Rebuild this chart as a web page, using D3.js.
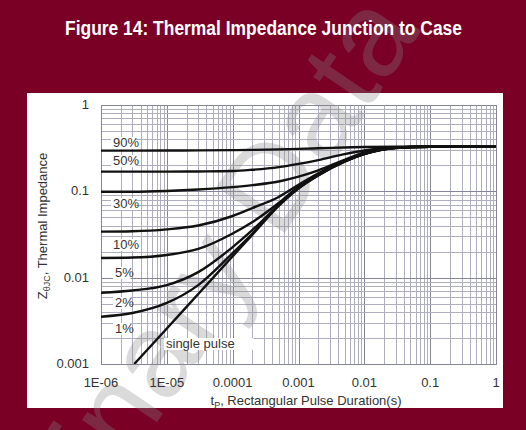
<!DOCTYPE html>
<html>
<head>
<meta charset="utf-8">
<script src="https://cdn.jsdelivr.net/npm/d3@7"></script>
<style>
  body { margin: 0; background: #7a0026; }
  svg { display: block; }
</style>
</head>
<body>
<svg width="526" height="430"></svg>
<script>
// pulse durations (s) used for the duty-cycle curves
var pulseT = [1e-6, 3e-6, 1e-5, 3e-5, 1e-4, 2e-4, 5e-4, 1e-3, 2e-3, 5e-3, 1e-2, 3e-2, 1e-1, 1];
var duty90 = [0.296, 0.296, 0.297, 0.298, 0.300, 0.302, 0.306, 0.310, 0.315, 0.322, 0.326, 0.329, 0.33, 0.33];
var duty50 = [0.169, 0.169, 0.169, 0.170, 0.172, 0.178, 0.191, 0.208, 0.230, 0.270, 0.297, 0.324, 0.329, 0.33];
var duty30 = [0.099, 0.099, 0.101, 0.105, 0.112, 0.118, 0.130, 0.148, 0.175, 0.232, 0.283, 0.322, 0.329, 0.33];
var duty10 = [0.0341, 0.0345, 0.0363, 0.0402, 0.0518, 0.0641, 0.086, 0.119, 0.162, 0.226, 0.274, 0.320, 0.328, 0.33];
var duty5 = [0.0169, 0.0171, 0.0183, 0.0215, 0.0325, 0.0441, 0.0733, 0.113, 0.158, 0.223, 0.272, 0.319, 0.328, 0.33];
var duty2 = [0.0067, 0.0071, 0.0082, 0.0116, 0.0226, 0.0357, 0.0693, 0.110, 0.155, 0.222, 0.271, 0.319, 0.328, 0.33];
var duty1 = [0.00353, 0.0039, 0.0051, 0.0082, 0.0193, 0.0325, 0.069, 0.109, 0.154, 0.221, 0.271, 0.318, 0.328, 0.33];
// single pulse has its own time points (starts off the bottom edge)
var singleT = [3.2e-6, 1e-5, 3e-5, 1e-4, 2e-4, 5e-4, 1e-3, 2e-3, 5e-3, 1e-2, 3e-2, 1e-1, 1];
var single = [0.001, 0.00258, 0.00647, 0.0177, 0.0315, 0.0678, 0.108, 0.153, 0.220, 0.270, 0.318, 0.328, 0.33];

var xTicks = [1e-6, 1e-5, 1e-4, 1e-3, 1e-2, 1e-1, 1];
var xTickLabels = ["1E-06", "1E-05", "0.0001", "0.001", "0.01", "0.1", "1"];
var yTicks = [0.001, 0.01, 0.1, 1];
var yTickLabels = ["0.001", "0.01", "0.1", "1"];

var curveNames = ["90%", "50%", "30%", "10%", "5%", "2%", "1%", "single pulse"];

var svg = d3.select("svg"),
    plotL = 101, plotR = 496, plotT = 105, plotB = 364;

var x = d3.scaleLog().domain([1e-6, 1]).range([plotL, plotR]);
var y = d3.scaleLog().domain([0.001, 1]).range([plotB, plotT]);

var font = "'Liberation Sans', Arial, sans-serif";

svg.append("rect").attr("width", 526).attr("height", 430).attr("fill", "#7a0026");

svg.append("rect")
    .attr("x", 27).attr("y", 93)
    .attr("width", 476).attr("height", 315)
    .attr("fill", "#fff");

// grid
var g = svg.append("g");
var minorX = [], minorY = [];
for (var e = -6; e < 0; e++) for (var m = 1; m < 10; m++) minorX.push(m * Math.pow(10, e));
minorX.push(1);
for (var e = -3; e < 0; e++) for (var m = 1; m < 10; m++) minorY.push(m * Math.pow(10, e));
minorY.push(1);

g.selectAll(".vx").data(minorX).enter().append("line")
    .attr("x1", function(d) { return Math.round(x(d)) + 0.5; })
    .attr("x2", function(d) { return Math.round(x(d)) + 0.5; })
    .attr("y1", plotT).attr("y2", plotB)
    .attr("stroke", function(d) { return xTicks.indexOf(d) >= 0 ? "#85859a" : "#aeaebe"; })
    .attr("stroke-width", 1);

g.selectAll(".hy").data(minorY).enter().append("line")
    .attr("y1", function(d) { return Math.round(y(d)) + 0.5; })
    .attr("y2", function(d) { return Math.round(y(d)) + 0.5; })
    .attr("x1", plotL).attr("x2", plotR)
    .attr("stroke", function(d) { return yTicks.indexOf(d) >= 0 ? "#85859a" : "#aeaebe"; })
    .attr("stroke-width", 1);

svg.append("rect")
    .attr("x", plotL + 0.5).attr("y", plotT + 0.5)
    .attr("width", plotR - plotL).attr("height", plotB - plotT)
    .attr("fill", "none").attr("stroke", "#85859a");

// faint "Preliminary Data" watermark across the page
svg.append("text")
    .attr("transform", "translate(421,31) rotate(-56)")
    .attr("text-anchor", "end")
    .attr("fill", "#888")
    .attr("opacity", 0.3)
    .style("font-family", font).style("font-size", "120px")
    .text("Preliminary Data");

svg.append("text")
    .attr("x", 65).attr("y", 35)
    .attr("textLength", 397)
    .attr("lengthAdjust", "spacingAndGlyphs")
    .attr("fill", "#fff")
    .style("font-family", font)
    .style("font-weight", "bold")
    .style("font-size", "20px")
    .text("Figure 14: Thermal Impedance Junction to Case");

// tick labels
svg.selectAll(".xt").data(xTicks).enter().append("text")
    .attr("x", function(d) { return x(d); })
    .attr("y", 387)
    .attr("text-anchor", "middle")
    .attr("fill", "#333")
    .style("font-family", font).style("font-size", "13px")
    .text(function(d, i) { return xTickLabels[i]; });

svg.selectAll(".yt").data(yTicks).enter().append("text")
    .attr("x", 89)
    .attr("y", function(d) { return y(d) + 4; })
    .attr("text-anchor", "end")
    .attr("fill", "#333")
    .style("font-family", font).style("font-size", "13px")
    .text(function(d, i) { return yTickLabels[i]; });

// axis titles
var xt = svg.append("text")
    .attr("x", 306).attr("y", 405)
    .attr("text-anchor", "middle")
    .attr("fill", "#333")
    .style("font-family", font).style("font-size", "13px");
xt.append("tspan").text("t");
xt.append("tspan").attr("dy", 3).style("font-size", "9px").text("P");
xt.append("tspan").attr("dy", -3).text(", Rectangular Pulse Duration(s)");

var yt = svg.append("text")
    .attr("transform", "translate(47,226) rotate(-90)")
    .attr("text-anchor", "middle")
    .attr("fill", "#333")
    .style("font-family", font).style("font-size", "13px");
yt.append("tspan").text("Z");
yt.append("tspan").attr("dy", 3).style("font-size", "9px").text("θJC");
yt.append("tspan").attr("dy", -3).text(", Thermal Impedance");

// curves
svg.append("clipPath").attr("id", "plot")
  .append("rect").attr("x", plotL).attr("y", plotT).attr("width", plotR - plotL).attr("height", plotB - plotT);

var line = d3.line()
    .x(function(d) { return x(d[0]); })
    .y(function(d) { return y(d[1]); })
    .curve(d3.curveMonotoneX);

var series = [duty90, duty50, duty30, duty10, duty5, duty2, duty1].map(function(s) {
  return s.map(function(v, i) { return [pulseT[i], v]; });
});
series.push(single.map(function(v, i) { return [singleT[i], v]; }));

svg.append("g").attr("clip-path", "url(#plot)")
  .selectAll("path").data(series).enter().append("path")
    .attr("d", line)
    .attr("fill", "none")
    .attr("stroke", "#111")
    .attr("stroke-width", 2.4);

// labels (white boxes hide the grid under them)
var labelPos = [[113, 147], [113, 165], [113, 208], [113, 249], [115, 277], [115, 307], [115, 333], [166, 348]];
var lab = svg.append("g").selectAll("g").data(curveNames).enter().append("g");
lab.append("rect")
    .attr("x", function(d, i) { return labelPos[i][0] - 2; })
    .attr("y", function(d, i) { return labelPos[i][1] - 10; })
    .attr("width", function(d) { return d.length * 7.2 + 3; })
    .attr("height", 12)
    .attr("fill", "#fff");
lab.append("text")
    .attr("x", function(d, i) { return labelPos[i][0]; })
    .attr("y", function(d, i) { return labelPos[i][1]; })
    .attr("fill", "#333")
    .style("font-family", font).style("font-size", "13px")
    .text(function(d) { return d; });
</script>
</body>
</html>
